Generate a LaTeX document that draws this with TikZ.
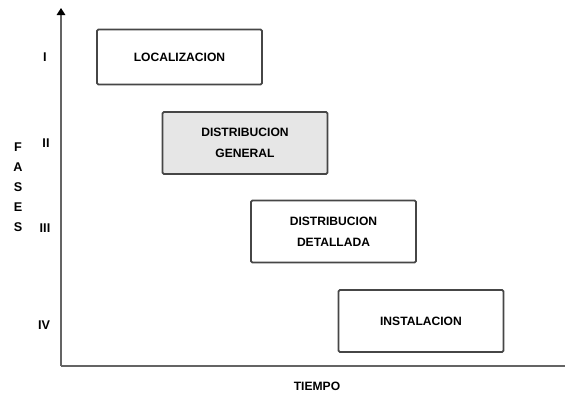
\documentclass[tikz,border=0pt]{standalone}
\usepackage{fontspec}
\setmainfont{Liberation Sans}
\usepackage{tikz}
\usetikzlibrary{arrows.meta, positioning}
\definecolor{AxisGray}{RGB}{100, 100, 100}
\definecolor{BoxGray}{RGB}{70, 70, 70}
\definecolor{FillGray}{RGB}{230, 230, 230}
\tikzset{
  fase/.style={rectangle, rounded corners=1pt, minimum width=4.125cm,
    minimum height=1.55cm, align=center, draw=BoxGray, line width=1.3pt,
    fill=white, font=\fontsize{8.6}{15}\selectfont\bfseries, text=black},
  num/.style={font=\fontsize{9}{11}\selectfont\bfseries, text=black},
  axis/.style={line width=2pt, color=AxisGray},
}
\begin{document}
\begin{tikzpicture}[x=0.025cm, y=-0.025cm]
  \useasboundingbox (0,0) rectangle (565,398);
  % axes
  \coordinate (o) at (61,366);
  \coordinate (ytop) at (61,8);
  \coordinate (xend) at (565,366);
  \draw[axis] (o) -- (xend);
  \draw[axis, -{Triangle[length=5pt, width=6pt, color=black]}] (o) -- (ytop);
  % phases
  \node[fase, minimum height=1.375cm] (loc) at (179.5,57) {LOCALIZACION};
  \node[fase, fill=FillGray] (gen) at (245,143) {DISTRIBUCION\\GENERAL};
  \node[fase] (det) at (333.5,231.5) {DISTRIBUCION\\DETALLADA};
  \node[fase] (inst) at (421,321) {INSTALACION};
  % roman numerals
  \node[num] (n1) at (45,57) {I};
  \node[num] (n2) at (46,143) {II};
  \node[num] (n3) at (45,228) {III};
  \node[num] (n4) at (44,325) {IV};
  % axis labels
  \node[num, align=center, font=\fontsize{9}{14.2}\selectfont\bfseries]
    (fases) at (18,187) {F\\A\\S\\E\\S};
  \node[num, font=\fontsize{8.6}{11}\selectfont\bfseries] (tiempo) at (317,386) {TIEMPO};
\end{tikzpicture}
\end{document}
